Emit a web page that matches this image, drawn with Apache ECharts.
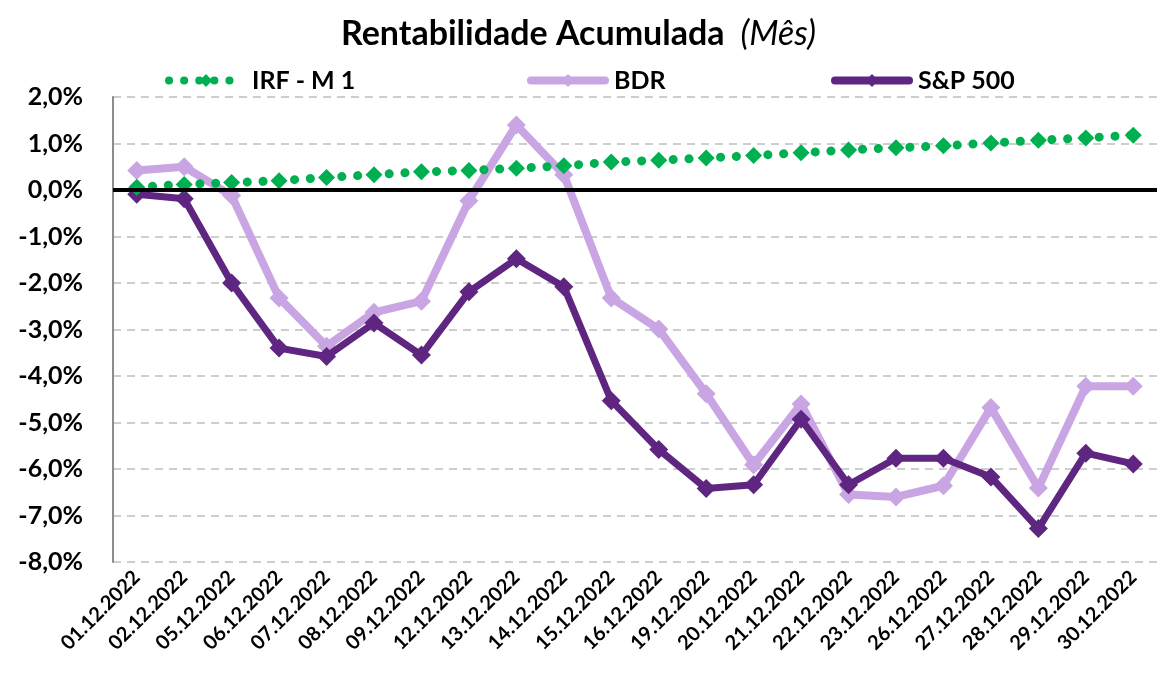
<!DOCTYPE html>
<html>
<head>
<meta charset="utf-8">
<script src="https://cdn.jsdelivr.net/npm/echarts@6/dist/echarts.min.js"></script>
<style>
html,body{margin:0;padding:0;background:#fff;}
#chart{width:1157px;height:673px;}
</style>
</head>
<body>
<div id="chart"></div>
<script>
const categories = ['01.12.2022','02.12.2022','05.12.2022','06.12.2022','07.12.2022','08.12.2022','09.12.2022','12.12.2022','13.12.2022','14.12.2022','15.12.2022','16.12.2022','19.12.2022','20.12.2022','21.12.2022','22.12.2022','23.12.2022','26.12.2022','27.12.2022','28.12.2022','29.12.2022','30.12.2022'];
const irfValues = [0.06,0.12,0.16,0.20,0.27,0.33,0.39,0.42,0.47,0.52,0.60,0.64,0.69,0.74,0.80,0.86,0.91,0.95,1.01,1.07,1.12,1.18];
const bdrValues = [0.42,0.50,-0.12,-2.32,-3.36,-2.63,-2.39,-0.23,1.40,0.33,-2.32,-2.99,-4.38,-5.91,-4.60,-6.55,-6.60,-6.36,-4.68,-6.41,-4.22,-4.22];
const spValues = [-0.09,-0.19,-2.00,-3.40,-3.58,-2.86,-3.55,-2.19,-1.48,-2.08,-4.53,-5.58,-6.42,-6.34,-4.93,-6.34,-5.77,-5.77,-6.17,-7.28,-5.66,-5.89];
const yTicks = {min:-8, max:2, interval:1};

const FONT = 'Lato';
const legendText = {fontFamily:FONT,fontWeight:'bold',fontSize:25,color:'#000',padding:[0,0,0,4]};
const chart = echarts.init(document.getElementById('chart'));
chart.setOption({
  animation:false,
  backgroundColor:'#ffffff',
  title:{
    text:'{b|Rentabilidade Acumulada}{i|  (Mês)}',
    left:'center', top:12,
    textStyle:{
      rich:{
        b:{fontFamily:FONT,fontWeight:'bold',fontSize:34,color:'#000'},
        i:{fontFamily:FONT,fontStyle:'italic',fontWeight:'normal',fontSize:34,color:'#000'}
      }
    }
  },
  legend:[
    {data:['IRF - M 1'],left:160,top:63,itemWidth:74,itemHeight:16,textStyle:legendText,
      lineStyle:{width:8,type:[0.1,15],cap:'round'}},
    {data:['BDR'],left:522,top:63,itemWidth:74,itemHeight:16,textStyle:legendText,
      lineStyle:{width:8,cap:'round'}},
    {data:['S&P 500'],left:826,top:63,itemWidth:74,itemHeight:16,textStyle:legendText,
      lineStyle:{width:8,cap:'round'}}
  ],
  grid:{left:113,right:0,top:97,bottom:111,containLabel:false},
  xAxis:{
    type:'category',
    data:categories,
    boundaryGap:true,
    axisLine:{show:false},
    axisTick:{show:false},
    axisLabel:{rotate:45,interval:0,margin:12,fontFamily:FONT,fontWeight:'bold',fontSize:20,color:'#000'}
  },
  yAxis:{
    type:'value',
    min:yTicks.min,max:yTicks.max,interval:yTicks.interval,
    axisLine:{show:true,lineStyle:{color:'#8c8c8c',width:2}},
    axisTick:{show:false},
    axisLabel:{margin:30,fontFamily:FONT,fontWeight:'bold',fontSize:25,color:'#000',
      formatter:v=>v.toFixed(1).replace('.',',')+'%'},
    splitLine:{show:true,lineStyle:{color:'#bfbfbf',width:1.5,type:[8,6]}}
  },
  series:[
    {
      name:'zero',type:'line',data:[],z:1,silent:true,
      markLine:{silent:true,symbol:'none',label:{show:false},
        lineStyle:{color:'#000',width:4,type:'solid'},data:[{yAxis:0}]}
    },
    {
      name:'BDR',type:'line',data:bdrValues,z:2,
      symbol:'diamond',symbolSize:19,
      lineStyle:{color:'#c9a5e3',width:8},
      itemStyle:{color:'#c9a5e3'}
    },
    {
      name:'S&P 500',type:'line',data:spValues,z:3,
      symbol:'diamond',symbolSize:19,
      lineStyle:{color:'#5e2680',width:7},
      itemStyle:{color:'#5e2680'}
    },
    {
      name:'IRF - M 1',type:'line',data:irfValues,z:4,
      symbol:'diamond',symbolSize:17,
      lineStyle:{color:'#00b050',width:9,type:[0.1,15.7],cap:'round'},
      itemStyle:{color:'#00b050'}
    }
  ]
});
</script>
</body>
</html>
